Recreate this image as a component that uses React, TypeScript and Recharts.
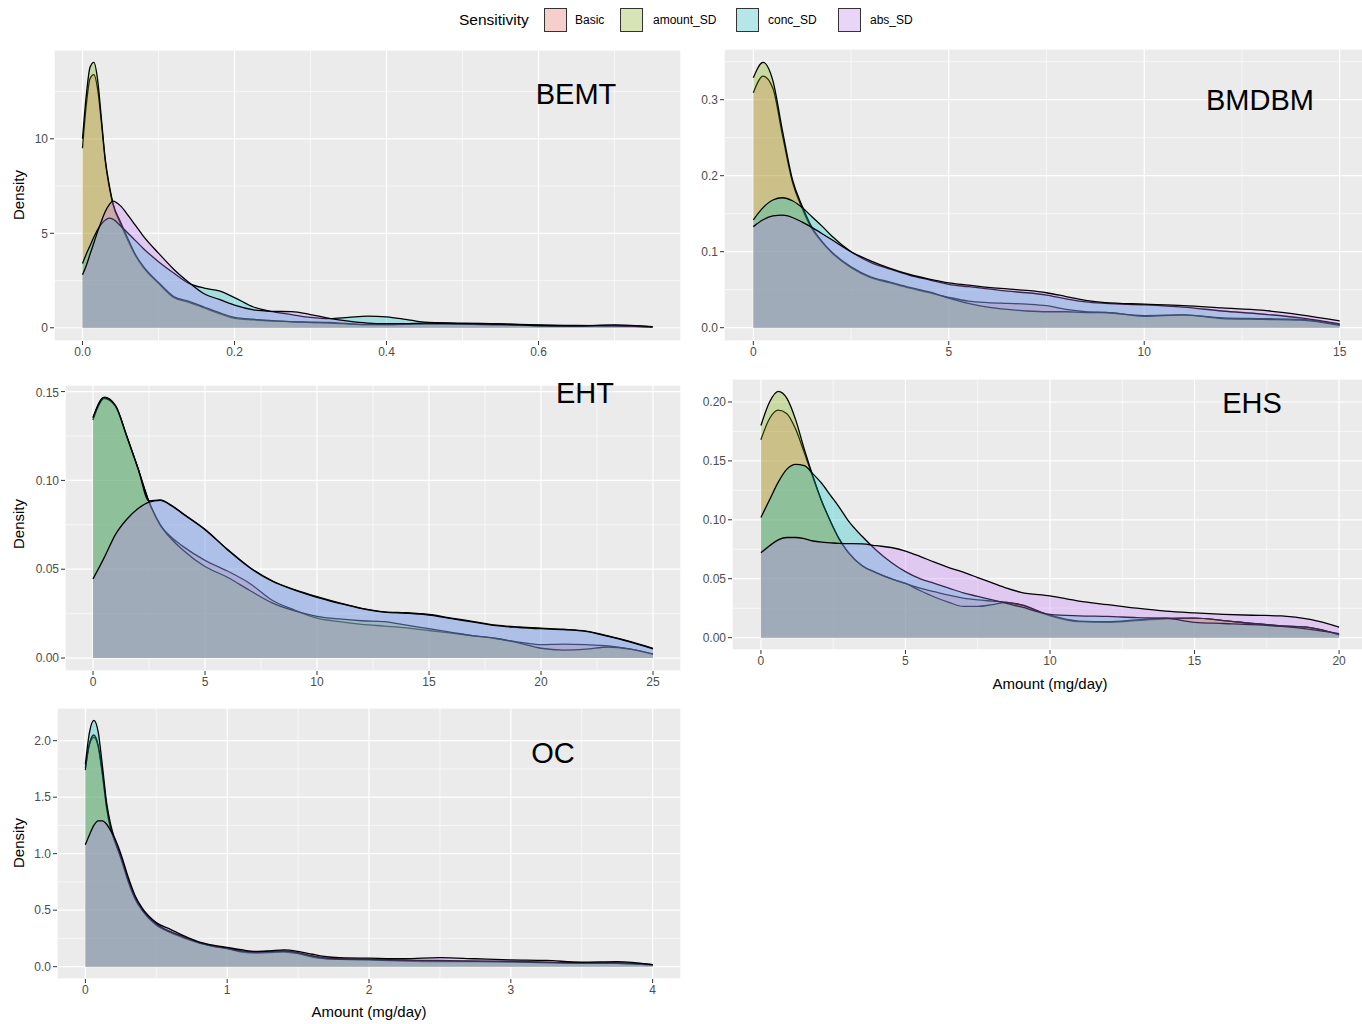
import { ComposedChart, Area, XAxis, YAxis, CartesianGrid } from "recharts";

const seriesNames = ["Basic", "amount_SD", "conc_SD", "abs_SD"];
const seriesColors = ["#F8766D", "#7CAE00", "#00BFC4", "#C77CFF"];
const legendFills = ["#F6CFCC", "#D7E4B3", "#B5E7E8", "#E8D5F7"];

// BEMT
const bemtX = [0, 0.005, 0.01, 0.015, 0.02, 0.025, 0.03, 0.035, 0.04, 0.05, 0.06, 0.07, 0.08, 0.1, 0.12, 0.14, 0.16, 0.18, 0.2, 0.225, 0.25, 0.275, 0.3, 0.325, 0.35, 0.375, 0.4, 0.425, 0.45, 0.5, 0.55, 0.6, 0.65, 0.7, 0.75];
const bemtBasic = [9.5, 11.8, 13.2, 13.4, 12.6, 10.8, 8.8, 7.5, 6.55, 5.5, 4.6, 3.8, 3.2, 2.35, 1.6, 1.35, 1.05, 0.75, 0.5, 0.42, 0.35, 0.33, 0.28, 0.25, 0.2, 0.15, 0.15, 0.18, 0.2, 0.2, 0.15, 0.1, 0.08, 0.1, 0.04];
const bemtAmount = [10.0, 12.3, 13.8, 14.05, 13.1, 11.0, 8.9, 7.6, 6.6, 5.6, 4.7, 3.85, 3.25, 2.4, 1.65, 1.4, 1.1, 0.8, 0.55, 0.45, 0.38, 0.32, 0.3, 0.28, 0.22, 0.18, 0.18, 0.2, 0.22, 0.2, 0.15, 0.12, 0.1, 0.12, 0.05];
const bemtConc = [3.4, 3.9, 4.35, 4.8, 5.2, 5.5, 5.7, 5.8, 5.75, 5.4, 5.0, 4.6, 4.2, 3.5, 2.9, 2.35, 2.1, 1.95, 1.6, 1.1, 0.85, 0.7, 0.55, 0.48, 0.55, 0.62, 0.58, 0.45, 0.3, 0.25, 0.2, 0.15, 0.12, 0.1, 0.05];
const bemtAbs = [2.8, 3.3, 3.9, 4.5, 5.1, 5.65, 6.15, 6.5, 6.7, 6.45, 5.95, 5.4, 4.85, 3.95, 3.1, 2.4, 1.8, 1.5, 1.2, 0.95, 0.87, 0.85, 0.7, 0.5, 0.35, 0.25, 0.22, 0.22, 0.25, 0.22, 0.2, 0.12, 0.1, 0.15, 0.06];
const bemtXTicks = [0, 0.2, 0.4, 0.6];
const bemtXMinor = [0.1, 0.3, 0.5, 0.7];
const bemtYTicks = [0, 5, 10];
const bemtYMinor = [2.5, 7.5, 12.5];

// BMDBM
const bmX = [0, 0.25, 0.5, 0.75, 1, 1.25, 1.5, 1.75, 2, 2.5, 3, 3.5, 4, 4.5, 5, 5.5, 6, 6.5, 7, 7.5, 8, 8.5, 9, 10, 11, 12, 13, 14, 15];
const bmBasic = [0.309, 0.331, 0.315, 0.252, 0.192, 0.157, 0.13, 0.113, 0.099, 0.079, 0.066, 0.059, 0.052, 0.046, 0.04, 0.035, 0.033, 0.032, 0.031, 0.029, 0.024, 0.021, 0.02, 0.016, 0.017, 0.013, 0.012, 0.011, 0.004];
const bmAmount = [0.329, 0.349, 0.325, 0.258, 0.195, 0.16, 0.132, 0.114, 0.1, 0.08, 0.067, 0.06, 0.053, 0.047, 0.039, 0.032, 0.027, 0.024, 0.022, 0.021, 0.021, 0.02, 0.02, 0.015, 0.017, 0.012, 0.011, 0.01, 0.003];
const bmConc = [0.142, 0.158, 0.168, 0.171, 0.167, 0.158, 0.146, 0.134, 0.121, 0.1, 0.086, 0.077, 0.069, 0.063, 0.057, 0.054, 0.051, 0.048, 0.046, 0.043, 0.038, 0.034, 0.032, 0.03, 0.027, 0.022, 0.018, 0.013, 0.005];
const bmAbs = [0.133, 0.142, 0.147, 0.148, 0.145, 0.139, 0.132, 0.124, 0.116, 0.1, 0.088, 0.078, 0.07, 0.064, 0.059, 0.056, 0.053, 0.051, 0.049, 0.046, 0.041, 0.036, 0.033, 0.031, 0.029, 0.026, 0.023, 0.017, 0.009];
const bmXTicks = [0, 5, 10, 15];
const bmXMinor = [2.5, 7.5, 12.5];
const bmYTicks = [0, 0.1, 0.2, 0.3];
const bmYMinor = [0.05, 0.15, 0.25, 0.35];

// EHT
const ehtX = [0, 0.5, 1, 1.5, 2, 2.5, 3, 3.5, 4, 5, 6, 7, 8, 9, 10, 11, 12, 13, 14, 15, 16, 17, 18, 19, 20, 21, 22, 23, 24, 25];
const ehtBasic = [0.134, 0.146, 0.1418, 0.125, 0.107, 0.088, 0.075, 0.068, 0.063, 0.055, 0.049, 0.042, 0.0325, 0.027, 0.0225, 0.0205, 0.019, 0.018, 0.017, 0.0155, 0.014, 0.0125, 0.011, 0.009, 0.0075, 0.0078, 0.0075, 0.0068, 0.005, 0.002];
const ehtAmount = [0.135, 0.1465, 0.142, 0.125, 0.107, 0.088, 0.075, 0.067, 0.061, 0.0515, 0.0455, 0.038, 0.031, 0.0265, 0.0235, 0.022, 0.021, 0.0205, 0.0185, 0.0165, 0.0145, 0.0125, 0.011, 0.0085, 0.0055, 0.0045, 0.005, 0.0062, 0.005, 0.0023];
const ehtConc = [0.1355, 0.1468, 0.1423, 0.1253, 0.1073, 0.0885, 0.089, 0.086, 0.0815, 0.0725, 0.0612, 0.051, 0.0435, 0.0385, 0.0345, 0.031, 0.028, 0.026, 0.0255, 0.0245, 0.0225, 0.0205, 0.0185, 0.0175, 0.0168, 0.0162, 0.0152, 0.0125, 0.0092, 0.0055];
const ehtAbs = [0.0445, 0.0565, 0.0695, 0.078, 0.084, 0.0878, 0.0888, 0.0858, 0.0812, 0.0722, 0.061, 0.0508, 0.0432, 0.0382, 0.0342, 0.0308, 0.0278, 0.0258, 0.0252, 0.0242, 0.0222, 0.0202, 0.0182, 0.0172, 0.0165, 0.016, 0.015, 0.0122, 0.009, 0.0052];
const ehtXTicks = [0, 5, 10, 15, 20, 25];
const ehtXMinor = [2.5, 7.5, 12.5, 17.5, 22.5];
const ehtYTicks = [0, 0.05, 0.1, 0.15];
const ehtYMinor = [0.025, 0.075, 0.125];

// EHS
const ehsX = [0, 0.3, 0.6, 0.9, 1.2, 1.5, 1.8, 2.1, 2.4, 2.7, 3, 3.5, 4, 4.5, 5, 5.5, 6, 6.5, 7, 7.5, 8, 8.5, 9, 10, 11, 12, 13, 14, 15, 16, 17, 18, 19, 20];
const ehsBasic = [0.168, 0.186, 0.193, 0.19, 0.177, 0.157, 0.136, 0.116, 0.099, 0.084, 0.073, 0.061, 0.055, 0.05, 0.046, 0.042, 0.039, 0.036, 0.0335, 0.032, 0.031, 0.03, 0.0275, 0.0185, 0.0135, 0.013, 0.0145, 0.016, 0.0165, 0.0145, 0.012, 0.01, 0.0085, 0.0023];
const ehsAmount = [0.18, 0.2, 0.209, 0.203, 0.185, 0.16, 0.137, 0.116, 0.099, 0.084, 0.073, 0.061, 0.055, 0.05, 0.046, 0.04, 0.0345, 0.03, 0.0265, 0.0265, 0.028, 0.03, 0.028, 0.019, 0.014, 0.0135, 0.015, 0.0165, 0.0165, 0.0145, 0.012, 0.01, 0.0085, 0.0025];
const ehsConc = [0.102, 0.117, 0.132, 0.143, 0.147, 0.146, 0.139, 0.131, 0.121, 0.111, 0.1, 0.086, 0.074, 0.064, 0.056, 0.05, 0.046, 0.042, 0.038, 0.035, 0.032, 0.029, 0.026, 0.0198, 0.0185, 0.018, 0.017, 0.0165, 0.013, 0.012, 0.011, 0.0095, 0.007, 0.0034];
const ehsAbs = [0.072, 0.078, 0.083, 0.085, 0.085, 0.084, 0.082, 0.081, 0.0805, 0.08, 0.0798, 0.0795, 0.078, 0.0765, 0.0735, 0.069, 0.064, 0.0595, 0.0555, 0.051, 0.0465, 0.042, 0.0385, 0.0355, 0.031, 0.028, 0.025, 0.0225, 0.021, 0.0198, 0.019, 0.0185, 0.0155, 0.009];
const ehsXTicks = [0, 5, 10, 15, 20];
const ehsXMinor = [2.5, 7.5, 12.5, 17.5];
const ehsYTicks = [0, 0.05, 0.1, 0.15, 0.2];
const ehsYMinor = [0.025, 0.075, 0.125, 0.175];

// OC
const ocX = [0, 0.03, 0.06, 0.09, 0.12, 0.15, 0.18, 0.21, 0.25, 0.3, 0.35, 0.4, 0.5, 0.6, 0.7, 0.8, 0.9, 1.0, 1.1, 1.2, 1.3, 1.4, 1.5, 1.6, 1.7, 1.8, 2.0, 2.25, 2.5, 2.75, 3.0, 3.25, 3.5, 3.75, 4.0];
const ocBasic = [1.76, 1.97, 2.03, 1.95, 1.7, 1.4, 1.21, 1.1, 0.97, 0.77, 0.61, 0.5, 0.37, 0.3, 0.25, 0.21, 0.18, 0.16, 0.13, 0.12, 0.125, 0.13, 0.115, 0.085, 0.07, 0.065, 0.06, 0.05, 0.045, 0.045, 0.04, 0.035, 0.03, 0.03, 0.015];
const ocAmount = [1.74, 1.98, 2.05, 1.96, 1.72, 1.42, 1.22, 1.1, 0.96, 0.76, 0.6, 0.5, 0.37, 0.31, 0.26, 0.21, 0.18, 0.16, 0.135, 0.125, 0.13, 0.135, 0.12, 0.09, 0.072, 0.066, 0.062, 0.055, 0.05, 0.048, 0.045, 0.038, 0.032, 0.03, 0.016];
const ocConc = [1.79, 2.08, 2.18, 2.08, 1.78, 1.45, 1.25, 1.12, 0.98, 0.78, 0.62, 0.51, 0.38, 0.31, 0.26, 0.215, 0.185, 0.165, 0.14, 0.13, 0.135, 0.14, 0.125, 0.095, 0.075, 0.068, 0.065, 0.058, 0.055, 0.05, 0.048, 0.04, 0.035, 0.035, 0.018];
const ocAbs = [1.08, 1.17, 1.25, 1.29, 1.29, 1.26, 1.2, 1.13, 1.0, 0.8, 0.63, 0.52, 0.39, 0.33, 0.27, 0.22, 0.19, 0.17, 0.15, 0.135, 0.14, 0.148, 0.135, 0.11, 0.088, 0.08, 0.075, 0.07, 0.08, 0.07, 0.06, 0.055, 0.04, 0.045, 0.018];
const ocXTicks = [0, 1, 2, 3, 4];
const ocXMinor = [0.5, 1.5, 2.5, 3.5];
const ocYTicks = [0, 0.5, 1, 1.5, 2];
const ocYMinor = [0.25, 0.75, 1.25, 1.75];

const FONT = "'Liberation Sans', Arial, Helvetica, sans-serif";

function toRows(xs: number[], cols: number[][]) {
  return xs.map((x, i) => {
    const row: Record<string, number> = { x };
    seriesNames.forEach((name, k) => {
      row[name] = cols[k][i];
    });
    return row;
  });
}

type PanelProps = {
  rows: Record<string, number>[];
  left: number;
  top: number;
  width: number;
  height: number;
  yWidth: number;
  xDomain: [number, number];
  yDomain: [number, number];
  xTicks: number[];
  xMinor: number[];
  yTicks: number[];
  yMinor: number[];
  xDec: number;
  yDec: number;
};

function Panel(p: PanelProps) {
  const tickStyle = { fill: "#4D4D4D", fontSize: 12, fontFamily: FONT };
  return (
    <div style={{ position: "absolute", left: p.left, top: p.top }}>
      <ComposedChart
        width={p.width}
        height={p.height}
        data={p.rows}
        margin={{ top: 0, right: 0, bottom: 0, left: 0 }}
      >
        <XAxis xAxisId="minor" type="number" dataKey="x" domain={p.xDomain} ticks={p.xMinor} allowDataOverflow hide />
        <YAxis yAxisId="minor" type="number" domain={p.yDomain} ticks={p.yMinor} allowDataOverflow hide />
        <CartesianGrid xAxisId="minor" yAxisId="minor" stroke="#FFFFFF" strokeWidth={0.6} fill="#EBEBEB" fillOpacity={1} />
        <CartesianGrid stroke="#FFFFFF" strokeWidth={1.2} />
        <XAxis
          type="number"
          dataKey="x"
          domain={p.xDomain}
          ticks={p.xTicks}
          allowDataOverflow
          height={30}
          axisLine={false}
          tickSize={4}
          tickMargin={2}
          tickLine={{ stroke: "#333333" }}
          tick={tickStyle}
          tickFormatter={(v: number) => v.toFixed(p.xDec)}
        />
        <YAxis
          type="number"
          domain={p.yDomain}
          ticks={p.yTicks}
          allowDataOverflow
          width={p.yWidth}
          axisLine={false}
          tickSize={4}
          tickMargin={2}
          tickLine={{ stroke: "#333333" }}
          tick={tickStyle}
          tickFormatter={(v: number) => v.toFixed(p.yDec)}
        />
        {seriesNames.map((name, k) => (
          <Area
            key={name}
            type="monotone"
            dataKey={name}
            baseValue={0}
            fill={seriesColors[k]}
            fillOpacity={0.3}
            stroke="#000000"
            strokeWidth={1.3}
            dot={false}
            activeDot={false}
            isAnimationActive={false}
          />
        ))}
      </ComposedChart>
    </div>
  );
}

function Txt({ x, y, size, children, rotate }: { x: number; y: number; size: number; children: string; rotate?: boolean }) {
  return (
    <div
      style={{
        position: "absolute",
        left: x,
        top: y,
        transform: `translate(-50%, -50%)${rotate ? " rotate(-90deg)" : ""}`,
        fontFamily: FONT,
        fontSize: size,
        color: "#000",
        whiteSpace: "nowrap",
        lineHeight: 1,
      }}
    >
      {children}
    </div>
  );
}

const legendBoxX = [544, 620, 736, 838];
const legendLabelX = [575, 653, 768, 870];

export default function App() {
  return (
    <div style={{ position: "absolute", left: 0, top: 0, width: 1362, height: 1024, overflow: "hidden", background: "#FFFFFF" }}>
      {/* legend */}
      <div style={{ position: "absolute", left: 459, top: 12, fontFamily: FONT, fontSize: 15.5, color: "#000", lineHeight: 1 }}>
        Sensitivity
      </div>
      {seriesNames.map((name, k) => (
        <div key={name}>
          <div
            style={{
              position: "absolute",
              left: legendBoxX[k],
              top: 8,
              width: 21,
              height: 22,
              background: legendFills[k],
              border: "1px solid #333",
            }}
          />
          <div style={{ position: "absolute", left: legendLabelX[k], top: 14, fontFamily: FONT, fontSize: 12, color: "#000", lineHeight: 1 }}>
            {name}
          </div>
        </div>
      ))}

      <Panel
        rows={toRows(bemtX, [bemtBasic, bemtAmount, bemtConc, bemtAbs])}
        left={0} top={50} width={681} height={321} yWidth={54}
        xDomain={[-0.0375, 0.7875]} yDomain={[-0.7, 14.7]}
        xTicks={bemtXTicks} xMinor={bemtXMinor} yTicks={bemtYTicks} yMinor={bemtYMinor}
        xDec={1} yDec={0}
      />
      <Panel
        rows={toRows(bmX, [bmBasic, bmAmount, bmConc, bmAbs])}
        left={690} top={49} width={679} height={322} yWidth={34}
        xDomain={[-0.75, 15.75]} yDomain={[-0.0175, 0.3667]}
        xTicks={bmXTicks} xMinor={bmXMinor} yTicks={bmYTicks} yMinor={bmYMinor}
        xDec={0} yDec={1}
      />
      <Panel
        rows={toRows(ehtX, [ehtBasic, ehtAmount, ehtConc, ehtAbs])}
        left={0} top={385} width={681} height={316} yWidth={65}
        xDomain={[-1.25, 26.25]} yDomain={[-0.0073, 0.1537]}
        xTicks={ehtXTicks} xMinor={ehtXMinor} yTicks={ehtYTicks} yMinor={ehtYMinor}
        xDec={0} yDec={2}
      />
      <Panel
        rows={toRows(ehsX, [ehsBasic, ehsAmount, ehsConc, ehsAbs])}
        left={690} top={379} width={678} height={301} yWidth={42}
        xDomain={[-1, 21]} yDomain={[-0.0105, 0.2195]}
        xTicks={ehsXTicks} xMinor={ehsXMinor} yTicks={ehsYTicks} yMinor={ehsYMinor}
        xDec={0} yDec={2}
      />
      <Panel
        rows={toRows(ocX, [ocBasic, ocAmount, ocConc, ocAbs])}
        left={0} top={708} width={681} height={301} yWidth={57}
        xDomain={[-0.2, 4.2]} yDomain={[-0.109, 2.289]}
        xTicks={ocXTicks} xMinor={ocXMinor} yTicks={ocYTicks} yMinor={ocYMinor}
        xDec={0} yDec={1}
      />

      {/* panel titles */}
      <Txt x={576} y={94} size={29}>BEMT</Txt>
      <Txt x={1260} y={100} size={29}>BMDBM</Txt>
      <Txt x={585} y={393} size={29}>EHT</Txt>
      <Txt x={1252} y={403} size={29}>EHS</Txt>
      <Txt x={553} y={753} size={29}>OC</Txt>

      {/* axis titles */}
      <Txt x={18} y={195} size={15} rotate>Density</Txt>
      <Txt x={18} y={524} size={15} rotate>Density</Txt>
      <Txt x={18} y={843} size={15} rotate>Density</Txt>
      <Txt x={1050} y={683} size={15}>Amount (mg/day)</Txt>
      <Txt x={369} y={1011} size={15}>Amount (mg/day)</Txt>
    </div>
  );
}
